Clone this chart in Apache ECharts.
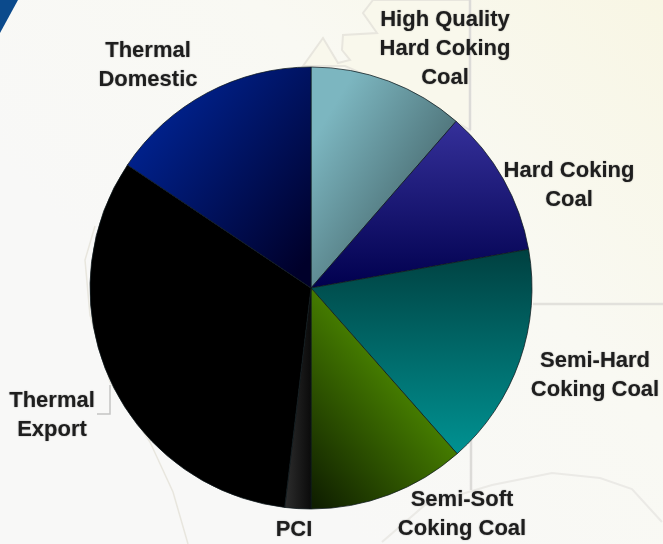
<!DOCTYPE html>
<html><head><meta charset="utf-8">
<style>html,body{margin:0;padding:0;background:#f8f8f7}#c{width:663px;height:544px}</style>
<script src="https://cdn.jsdelivr.net/npm/echarts@6/dist/echarts.min.js"></script>
</head><body><div id="c"></div>
<script>
const categories = ["High Quality\nHard Coking\nCoal","Hard Coking\nCoal","Semi-Hard\nCoking Coal","Semi-Soft\nCoking Coal","PCI","Thermal\nExport","Thermal\nDomestic"];
const shares = [11.4,10.8,16.3,11.5,1.9,32.5,15.6];

function grad(x,y,x2,y2,a,b){return new echarts.graphic.LinearGradient(x,y,x2,y2,[{offset:0,color:a},{offset:1,color:b}]);}
const fills = [
  grad(0,0.35,1,0.75,'#7cb6c0','#3c585c'),
  grad(0,0,0,1,'#35309a','#00004e'),
  grad(0,0,0,1,'#004040','#009292'),
  grad(0,0.96,0.72,0.55,'#0f1e00','#447a00'),
  grad(0,0,1,0,'#2e2e2e','#0a0a0a'),
  grad(0,0,1,1,'#000000','#000000'),
  grad(0,0.2,1,0.85,'#00269a','#00002a')
];
const labelAt = [[445,49],[569,185],[595,375],[462,514],[294,530],[52,415],[148,65]];
const faint = '#e8e6de';
const chart = echarts.init(document.getElementById('c'),null,{renderer:'canvas'});
chart.setOption({
  animation:false,
  backgroundColor:new echarts.graphic.LinearGradient(0.35,0.75,1,0,[{offset:0,color:'#f8f8f7'},{offset:0.5,color:'#f9f9f3'},{offset:1,color:'#f8f6e4'}]),
  graphic:[
    {type:'polygon',z:0,shape:{points:[[0,0],[18,0],[0,33]]},style:{fill:'#0b4a8c'}},
    {type:'polygon',z:0,shape:{points:[[303,66],[323,38],[338,63],[350,60],[342,50],[343,35],[377,33],[363,13],[373,0],[470,0],[470,130],[400,90],[345,66]]},style:{fill:'#f9f8ec',stroke:faint,lineWidth:2}},
    {type:'line',z:0,shape:{x1:470,y1:0,x2:470,y2:130},style:{stroke:'#dcdbd8',lineWidth:2.5}},
    {type:'line',z:0,shape:{x1:471,y1:440,x2:471,y2:490},style:{stroke:'#dcdbd8',lineWidth:2.5}},
    {type:'line',z:0,shape:{x1:533,y1:304,x2:663,y2:304},style:{stroke:'#e2e1dc',lineWidth:2.5}},
    {type:'polyline',z:0,shape:{points:[[95,226],[85,260],[90,315],[110,382],[150,442],[173,492],[188,544]]},style:{stroke:faint,lineWidth:1.5,fill:'none'}},
    {type:'polyline',z:0,shape:{points:[[382,542],[425,505],[492,485],[552,473],[600,478],[632,489],[662,522]]},style:{stroke:'#ebeae6',lineWidth:2,fill:'none'}},
    {type:'polyline',z:3,shape:{points:[[97,414],[110,414],[110,385]]},style:{stroke:'#c4c4c4',lineWidth:1.5,fill:'none'}}
  ],
  series:[{
    type:'pie',
    center:[311,288],
    radius:[0,221],
    startAngle:90,
    clockwise:true,
    avoidLabelOverlap:false,
    silent:true,
    data:categories.map((name,i)=>({name,value:shares[i],itemStyle:{color:fills[i]}})),
    itemStyle:{borderColor:'rgba(15,25,30,0.75)',borderWidth:1},
    label:{show:true,position:'outside',formatter:'{b}',fontFamily:'Liberation Sans',fontWeight:'bold',fontSize:22,lineHeight:29,color:'#1e1e1e',align:'center',
      textShadowColor:'rgba(40,40,40,0.5)',textShadowBlur:1.5},
    labelLine:{show:false},
    labelLayout:p=>({x:labelAt[p.dataIndex][0],y:labelAt[p.dataIndex][1],align:'center',verticalAlign:'middle'})
  }]
});
</script></body></html>
